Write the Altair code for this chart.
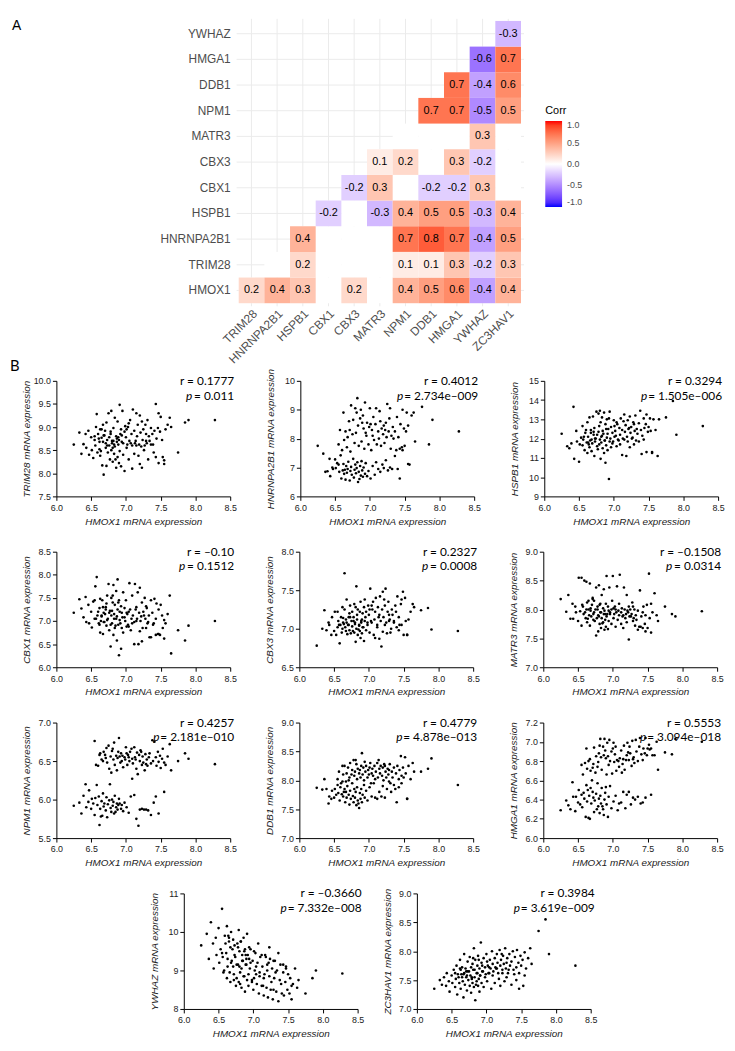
import altair as alt
import pandas as pd

# ---------------- Panel A: correlation heat map ----------------
heat_cols = ["TRIM28", "HNRNPA2B1", "HSPB1", "CBX1", "CBX3", "MATR3",
             "NPM1", "DDB1", "HMGA1", "YWHAZ", "ZC3HAV1"]
heat_rows = ["HMOX1", "TRIM28", "HNRNPA2B1", "HSPB1", "CBX1", "CBX3",
             "MATR3", "NPM1", "DDB1", "HMGA1", "YWHAZ"]          # bottom -> top

corr_row = ["HMOX1"] * 9 + ["TRIM28"] * 6 + ["HNRNPA2B1"] * 6 + ["HSPB1"] * 7 + \
           ["CBX1"] * 5 + ["CBX3"] * 4 + ["MATR3"] + ["NPM1"] * 4 + ["DDB1"] * 3 + \
           ["HMGA1"] * 2 + ["YWHAZ"]
corr_col = ["TRIM28", "HNRNPA2B1", "HSPB1", "CBX3", "NPM1", "DDB1", "HMGA1", "YWHAZ", "ZC3HAV1",
            "HSPB1", "NPM1", "DDB1", "HMGA1", "YWHAZ", "ZC3HAV1",
            "HSPB1", "NPM1", "DDB1", "HMGA1", "YWHAZ", "ZC3HAV1",
            "CBX1", "MATR3", "NPM1", "DDB1", "HMGA1", "YWHAZ", "ZC3HAV1",
            "CBX3", "MATR3", "DDB1", "HMGA1", "YWHAZ",
            "MATR3", "NPM1", "HMGA1", "YWHAZ",
            "YWHAZ",
            "DDB1", "HMGA1", "YWHAZ", "ZC3HAV1",
            "HMGA1", "YWHAZ", "ZC3HAV1",
            "YWHAZ", "ZC3HAV1",
            "ZC3HAV1"]
corr_val = [0.2, 0.4, 0.3, 0.2, 0.4, 0.5, 0.6, -0.4, 0.4,
            0.2, 0.1, 0.1, 0.3, -0.2, 0.3,
            0.4, 0.7, 0.8, 0.7, -0.4, 0.5,
            -0.2, -0.3, 0.4, 0.5, 0.5, -0.3, 0.4,
            -0.2, 0.3, -0.2, -0.2, 0.3,
            0.1, 0.2, 0.3, -0.2,
            0.3,
            0.7, 0.7, -0.5, 0.5,
            0.7, -0.4, 0.6,
            -0.6, 0.7,
            -0.3]
legend_vals = [1.0, 0.5, 0.0, -0.5, -1.0]

# ---------------- Panel B: scatter data ----------------
# HMOX1 expression of each sample (shared x of every scatter)
HMOX1_A = [6.25, 6.33, 6.36, 6.39, 6.42, 6.43, 6.46, 6.47, 6.50, 6.51,
           6.53, 6.55, 6.56, 6.58, 6.59, 6.61, 6.62, 6.63, 6.65, 6.66,
           6.67, 6.68, 6.69, 6.71, 6.72, 6.73, 6.74, 6.76, 6.77, 6.78,
           6.79, 6.80, 6.81, 6.82, 6.83, 6.84, 6.86, 6.87, 6.88, 6.89,
           6.90, 6.91, 6.93, 6.94, 6.96, 6.98, 7.01, 7.04, 7.07, 7.09,
           7.12, 7.15, 7.18, 7.20, 7.23, 7.26, 7.29, 7.32, 7.36, 7.40,
           7.43, 7.47, 7.55, 6.64, 6.85]
HMOX1_B = [6.55, 6.57, 6.60, 6.62, 6.63, 6.65, 6.67, 6.68, 6.70, 6.72,
           6.73, 6.75, 6.76, 6.78, 6.79, 6.80, 6.82, 6.83, 6.84, 6.86,
           6.87, 6.88, 6.90, 6.91, 6.92, 6.93, 6.95, 6.96, 6.98, 6.99,
           7.00, 7.02, 7.03, 7.05, 7.06, 7.08, 7.09, 7.10, 7.12, 7.13,
           7.15, 7.16, 7.17, 7.19, 7.20, 7.21, 7.23, 7.24, 7.25, 7.27,
           7.28, 7.30, 7.31, 7.33, 7.34, 7.36, 7.38, 7.39, 7.41, 7.43,
           7.44, 7.46, 7.47, 7.49, 7.50, 7.52, 7.53, 7.55, 7.57, 7.60,
           7.63, 7.65, 7.75, 7.85, 7.90, 8.28, 6.81, 6.94, 7.01, 7.14,
           7.22, 7.29, 6.71, 6.89, 7.04]
HMOX1 = HMOX1_A + HMOX1_B

TRIM28 = [8.62, 8.88, 8.42, 8.63, 8.85, 8.55, 8.92, 8.40, 8.78, 8.50,
          8.33, 8.80, 8.60, 9.28, 8.45, 8.75, 8.52, 8.38, 8.95, 8.17,
          8.68, 7.97, 8.82, 8.55, 8.16, 8.72, 8.45, 8.60, 8.30, 8.85,
          8.50, 8.65, 8.25, 8.70, 8.42, 8.58, 8.12, 8.75, 8.35, 8.62,
          8.22, 8.48, 8.15, 8.68, 8.40, 8.05, 8.55, 8.30, 8.65, 8.10,
          8.42, 8.60, 8.38, 8.20, 8.12, 8.50, 8.70, 8.30, 8.62, 8.45,
          8.35, 8.22, 8.20, 8.48, 8.30] + \
         [8.72, 9.00, 8.85, 8.68, 8.95, 8.77, 9.05, 8.82, 8.92, 9.10,
          8.60, 9.30, 8.78, 8.90, 9.35, 8.70, 8.98, 8.62, 9.20, 8.80,
          8.68, 9.12, 8.72, 9.48, 8.85, 8.95, 9.35, 8.65, 8.90, 9.02,
          8.78, 8.62, 9.00, 8.70, 9.15, 8.85, 8.60, 9.38, 8.92, 8.65,
          9.30, 8.80, 9.05, 8.62, 9.25, 8.88, 9.12, 8.72, 8.95, 8.60,
          9.05, 8.65, 9.15, 8.80, 8.70, 8.98, 8.85, 8.62, 8.92, 9.50,
          8.75, 8.98, 9.30, 8.90, 9.22, 8.72, 8.35, 8.28, 8.95, 9.05,
          9.20, 9.00, 8.45, 9.10, 9.15, 9.15, 8.55, 8.82, 8.95, 8.70,
          8.58, 8.85, 8.65, 8.78, 9.08]

HNRNPA2B1 = [7.75, 7.48, 6.85, 6.87, 7.30, 6.70, 7.00, 6.95, 7.28, 6.98,
             7.15, 7.10, 6.85, 7.42, 6.62, 6.90, 7.12, 6.78, 6.58, 7.05,
             6.82, 6.95, 7.20, 6.55, 6.88, 7.02, 6.75, 7.30, 6.65, 6.92,
             7.10, 6.80, 6.98, 7.18, 6.50, 6.85, 7.05, 6.72, 7.22, 6.90,
             6.68, 7.00, 6.78, 7.15, 6.70, 6.88, 6.62, 7.05, 6.75, 7.18,
             6.95, 6.85, 7.10, 6.98, 7.25, 6.90, 7.00, 6.95, 7.40, 6.95,
             6.62, 7.60, 7.12, 6.92, 6.60] + \
            [7.80, 8.30, 7.60, 8.90, 7.95, 8.25, 7.70, 8.05, 8.60, 7.55,
             9.15, 8.15, 8.65, 7.85, 9.05, 8.20, 9.40, 8.45, 7.75, 8.70,
             9.00, 7.90, 8.80, 8.35, 7.65, 9.25, 8.10, 8.55, 7.80, 8.40,
             9.05, 7.60, 8.30, 8.75, 7.95, 8.50, 9.05, 7.80, 8.25, 8.00,
             8.60, 7.75, 8.35, 8.15, 8.45, 7.85, 8.55, 8.05, 9.20, 8.25,
             8.70, 7.65, 8.10, 8.40, 8.00, 8.25, 7.60, 8.75, 8.05, 7.65,
             8.50, 7.70, 9.00, 8.35, 7.75, 8.25, 8.90, 8.45, 7.10, 8.80,
             8.90, 7.90, 9.10, 7.80, 8.65, 8.25, 8.90, 8.20, 8.50, 8.95,
             8.30, 9.05, 8.30, 8.55, 8.10]

HSPB1 = [12.25, 11.60, 11.50, 11.75, 13.65, 10.95, 12.40, 11.85, 10.80, 11.70,
         12.05, 11.65, 11.95, 11.40, 12.30, 11.80, 11.25, 12.10, 11.55, 11.90,
         12.45, 11.35, 11.75, 12.20, 11.10, 11.85, 12.00, 11.60, 11.45, 12.35,
         11.70, 11.95, 10.95, 11.80, 12.15, 11.50, 11.25, 11.90, 10.75, 11.65,
         12.05, 11.40, 9.90, 11.85, 11.55, 11.75, 12.10, 11.60, 11.90, 11.70,
         11.15, 11.95, 11.10, 11.85, 11.55, 12.00, 11.70, 11.90, 11.85, 11.20,
         11.95, 11.30, 11.25, 11.70, 12.25] + \
        [12.65, 12.10, 12.45, 12.85, 11.80, 13.10, 12.30, 11.95, 13.15, 12.55,
         12.00, 13.40, 12.20, 13.30, 12.65, 13.45, 12.10, 13.10, 12.40, 13.35,
         11.90, 12.75, 13.00, 12.25, 12.50, 13.05, 12.00, 12.60, 12.30, 11.85,
         12.95, 12.40, 12.15, 12.75, 11.95, 12.55, 12.20, 13.05, 12.45, 12.00,
         13.25, 12.35, 12.70, 12.10, 12.95, 12.50, 13.15, 12.30, 12.60, 12.05,
         12.85, 12.40, 13.20, 12.50, 12.25, 12.80, 13.45, 12.45, 12.15, 13.05,
         12.55, 12.75, 13.25, 12.35, 12.60, 13.05, 12.40, 11.30, 13.00, 12.45,
         11.10, 13.00, 13.10, 13.95, 12.20, 12.65, 12.85, 13.40, 12.65, 12.90,
         12.55, 12.75, 12.35, 12.50, 12.85]

CBX1 = [7.18, 7.47, 7.27, 7.08, 7.52, 6.98, 7.35, 6.95, 7.20, 6.86,
        7.42, 7.05, 7.75, 7.95, 7.12, 6.95, 7.28, 6.75, 7.10, 7.45,
        6.72, 7.18, 6.98, 7.30, 6.90, 7.55, 7.05, 6.80, 7.22, 6.45,
        7.12, 6.95, 7.40, 6.70, 7.15, 6.85, 7.05, 6.58, 7.25, 6.92,
        6.26, 7.02, 6.40, 7.18, 6.75, 7.08, 6.88, 7.20, 6.80, 6.95,
        6.50, 7.00, 6.50, 6.78, 6.56, 7.12, 6.85, 6.98, 6.65, 6.95,
        6.70, 6.72, 6.62, 7.00, 6.90] + \
       [7.45, 7.05, 7.20, 6.92, 7.48, 7.12, 7.30, 6.98, 7.15, 7.38,
        7.02, 7.80, 7.18, 6.92, 7.50, 7.22, 7.78, 7.05, 7.35, 7.65,
        7.10, 7.90, 7.45, 7.20, 6.95, 7.32, 7.08, 7.62, 7.28, 7.00,
        7.45, 7.15, 6.92, 7.82, 7.25, 7.05, 7.55, 7.12, 6.98, 7.80,
        7.30, 7.05, 7.62, 7.18, 7.72, 7.00, 7.40, 6.85, 7.20, 7.50,
        7.05, 7.28, 6.95, 7.12, 6.65, 7.45, 7.18, 6.92, 7.48, 7.05,
        7.38, 6.72, 7.25, 6.70, 7.35, 7.12, 6.85, 7.02, 6.95, 7.15,
        7.55, 6.30, 6.80, 6.58, 6.90, 7.00, 7.55, 6.85, 7.18, 7.25,
        7.10, 7.32, 7.25, 7.40, 6.88]

CBX3 = [6.78, 7.00, 7.24, 6.98, 7.08, 7.05, 6.92, 7.15, 6.97, 7.22,
        6.92, 7.02, 7.10, 6.81, 7.05, 6.95, 7.00, 7.14, 7.72, 7.02,
        6.97, 7.08, 6.93, 7.05, 6.98, 7.15, 6.94, 7.03, 6.97, 7.10,
        6.95, 7.06, 6.83, 7.00, 7.12, 6.92, 7.04, 6.97, 6.88, 7.08,
        6.94, 7.02, 6.84, 7.10, 6.98, 7.05, 6.95, 7.08, 6.92, 6.88,
        7.02, 6.87, 6.77, 6.96, 7.05, 6.94, 7.10, 7.00, 7.08, 7.02,
        6.98, 7.05, 6.92, 7.06, 6.99] + \
       [7.22, 7.05, 7.15, 7.28, 7.08, 7.25, 7.12, 7.38, 7.05, 7.20,
        7.30, 7.10, 7.22, 7.15, 7.32, 7.08, 7.55, 7.18, 7.25, 7.05,
        7.22, 7.35, 7.12, 7.20, 7.02, 7.28, 7.15, 7.22, 7.08, 7.30,
        7.18, 7.52, 7.10, 7.25, 7.35, 7.12, 7.22, 7.40, 7.05, 7.28,
        7.18, 7.42, 7.10, 7.25, 7.48, 7.15, 7.30, 7.52, 7.08, 7.22,
        7.35, 7.12, 6.95, 7.25, 7.18, 7.10, 7.30, 7.22, 7.42, 7.15,
        7.05, 7.32, 7.38, 7.48, 6.92, 7.40, 7.10, 6.92, 7.12, 7.22,
        7.32, 7.28, 7.24, 7.27, 6.99, 6.97, 7.28, 7.38, 7.25, 7.15,
        7.38, 7.18, 7.15, 7.10, 7.30]

MATR3 = [8.18, 7.96, 8.25, 7.84, 8.10, 7.84, 8.05, 7.95, 7.80, 8.55,
         7.97, 7.72, 8.08, 7.92, 8.50, 7.85, 8.00, 7.78, 8.15, 7.90,
         7.72, 8.02, 7.88, 8.18, 7.82, 7.95, 7.80, 7.55, 7.85, 8.00,
         7.62, 7.88, 7.75, 7.95, 7.68, 7.85, 7.78, 7.92, 7.65, 7.82,
         7.70, 7.88, 7.66, 7.80, 7.92, 7.75, 7.85, 7.70, 7.82, 7.90,
         7.75, 7.68, 7.85, 7.78, 7.48, 7.88, 7.80, 7.72, 7.65, 7.70,
         7.68, 7.62, 7.60, 7.84, 7.76] + \
        [8.55, 8.05, 7.95, 8.48, 8.12, 8.00, 8.45, 7.98, 8.08, 7.92,
         8.15, 8.00, 8.38, 8.05, 7.90, 8.42, 8.10, 7.95, 8.25, 8.02,
         8.35, 7.98, 8.10, 8.58, 7.92, 8.05, 8.38, 7.95, 8.00, 8.15,
         8.58, 7.92, 8.05, 7.95, 8.40, 7.98, 8.10, 8.60, 7.95, 8.02,
         7.90, 8.38, 8.00, 7.92, 8.25, 7.98, 8.05, 7.88, 8.00, 7.92,
         8.12, 7.85, 8.00, 7.90, 7.82, 7.98, 7.70, 8.33, 7.88, 7.95,
         8.05, 7.75, 7.90, 8.08, 7.68, 8.62, 7.85, 8.10, 7.95, 8.28,
         7.90, 7.80, 8.05, 7.92, 7.88, 7.97, 8.08, 7.98, 8.02, 7.88,
         7.95, 8.05, 8.20, 7.92, 8.00]

NPM1 = [5.92, 5.96, 5.82, 6.05, 6.20, 5.90, 5.97, 6.12, 5.88, 6.01,
        5.95, 5.80, 6.02, 6.19, 5.93, 6.04, 5.67, 5.88, 5.98, 5.79,
        6.08, 5.91, 5.95, 5.86, 6.03, 5.77, 5.94, 5.99, 6.20, 5.89,
        5.84, 6.00, 5.92, 5.97, 5.82, 6.05, 5.90, 5.95, 5.87, 5.93,
        6.01, 5.95, 5.88, 5.93, 5.85, 5.96, 5.90, 5.83, 6.04, 6.27,
        6.06, 5.75, 5.66, 5.87, 5.88, 5.87, 5.87, 5.86, 5.80, 5.96,
        6.04, 5.82, 6.10, 5.78, 5.84] + \
       [6.76, 6.45, 6.44, 6.58, 6.60, 6.52, 6.50, 6.62, 6.58, 6.67,
        6.48, 6.70, 6.40, 6.56, 6.35, 6.63, 6.52, 6.74, 6.45, 6.57,
        6.38, 6.54, 6.80, 6.56, 6.48, 6.60, 6.57, 6.42, 6.55, 6.52,
        6.68, 6.45, 6.58, 6.50, 6.62, 6.66, 6.53, 6.47, 6.68, 6.55,
        6.40, 6.61, 6.33, 6.58, 6.50, 6.64, 6.45, 6.56, 6.48, 6.38,
        6.59, 6.52, 6.44, 6.55, 6.60, 6.47, 6.77, 6.50, 6.75, 6.55,
        6.44, 6.62, 6.49, 6.57, 6.41, 6.53, 6.66, 6.48, 6.45, 6.56,
        6.72, 6.38, 6.50, 6.60, 6.53, 6.46, 6.66, 6.50, 6.60, 6.52,
        6.62, 6.46, 6.54, 6.62, 6.55]

DDB1 = [7.87, 7.84, 8.02, 7.85, 7.60, 7.72, 7.68, 7.82, 7.70, 7.85,
        7.75, 7.92, 7.78, 7.65, 7.88, 7.76, 7.98, 7.72, 7.85, 7.62,
        7.80, 7.70, 7.90, 7.75, 7.58, 7.82, 7.68, 7.95, 7.73, 7.62,
        7.85, 7.70, 7.80, 7.57, 7.88, 7.65, 7.52, 7.78, 7.68, 7.85,
        7.62, 7.75, 7.92, 7.70, 7.82, 7.65, 7.88, 7.72, 7.95, 7.70,
        7.68, 7.80, 7.72, 7.90, 7.70, 7.85, 7.98, 7.80, 7.92, 7.62,
        7.88, 7.95, 7.68, 7.80, 7.60] + \
       [8.02, 8.15, 7.95, 8.25, 8.10, 8.25, 7.98, 8.12, 8.22, 8.05,
        8.30, 8.10, 8.18, 8.35, 8.08, 8.15, 8.28, 8.02, 8.20, 8.12,
        8.18, 8.05, 8.47, 8.10, 8.22, 8.00, 8.15, 8.25, 8.05, 8.18,
        8.10, 8.30, 7.95, 8.20, 8.08, 8.25, 8.02, 8.15, 8.30, 8.05,
        8.20, 8.12, 8.25, 8.08, 8.22, 8.00, 8.25, 8.15, 8.05, 8.20,
        8.10, 8.28, 7.95, 8.15, 8.05, 8.22, 7.85, 8.12, 8.25, 8.02,
        8.18, 8.42, 8.08, 8.22, 8.05, 8.40, 8.12, 7.68, 8.25, 8.02,
        8.30, 8.15, 8.15, 8.20, 8.38, 7.92, 8.35, 8.32, 8.22, 8.35,
        8.28, 8.18, 8.00, 8.25, 8.12]

HMGA1 = [6.29, 6.39, 6.34, 6.30, 6.58, 6.43, 6.28, 6.43, 6.37, 6.50,
         6.35, 6.45, 6.32, 6.47, 6.41, 6.22, 6.55, 6.38, 6.21, 6.44,
         6.20, 6.52, 6.36, 6.48, 6.42, 6.27, 6.39, 6.46, 6.30, 6.57,
         6.33, 6.41, 6.26, 6.44, 6.36, 6.52, 6.30, 6.24, 6.40, 6.47,
         6.53, 6.35, 6.22, 6.43, 6.54, 6.31, 6.38, 6.44, 6.29, 6.36,
         6.37, 6.48, 6.31, 6.45, 6.48, 6.35, 6.42, 6.40, 6.43, 6.36,
         6.37, 6.42, 6.45, 6.50, 6.33] + \
        [6.76, 6.66, 6.78, 6.93, 6.72, 6.80, 6.82, 6.70, 6.60, 6.77,
         6.94, 6.68, 6.85, 6.74, 6.79, 6.88, 7.03, 6.84, 6.71, 6.95,
         6.86, 7.03, 6.83, 6.66, 6.99, 6.85, 7.02, 6.80, 6.90, 6.67,
         6.93, 6.79, 6.87, 6.70, 6.81, 6.80, 6.74, 6.83, 6.91, 6.68,
         6.82, 6.96, 6.71, 6.81, 6.86, 6.99, 6.81, 6.95, 6.88, 6.75,
         7.01, 6.84, 6.78, 7.02, 6.90, 6.80, 6.95, 7.04, 6.87, 6.81,
         6.93, 6.88, 7.04, 6.86, 6.93, 6.97, 6.92, 6.93, 6.86, 6.86,
         7.00, 6.71, 6.89, 6.87, 7.03, 7.00, 6.96, 6.76, 6.99, 6.77,
         6.89, 6.82, 6.73, 6.91, 6.95]

YWHAZ = [9.65, 9.95, 9.30, 10.25, 9.70, 9.05, 9.85, 9.40, 10.10, 9.20,
         9.55, 10.60, 9.35, 9.00, 9.90, 9.45, 10.15, 9.10, 9.75, 8.95,
         9.60, 10.00, 9.25, 9.80, 8.90, 9.65, 9.35, 8.80, 9.70, 9.15,
         10.05, 9.50, 8.95, 9.75, 9.05, 9.40, 9.85, 8.85, 9.55, 9.15,
         9.30, 9.95, 8.90, 9.60, 9.20, 8.75, 9.50, 9.10, 9.70, 8.85,
         9.40, 8.80, 9.35, 9.00, 9.60, 8.70, 9.25, 8.95, 9.45, 8.65,
         9.15, 9.05, 8.60, 9.90, 9.25] + \
        [9.45, 8.95, 9.70, 8.80, 9.30, 9.85, 8.70, 9.20, 9.55, 8.75,
         9.40, 8.60, 9.15, 9.60, 8.70, 9.10, 9.75, 8.55, 9.25, 8.85,
         9.50, 8.45, 9.15, 8.75, 9.40, 8.60, 9.05, 9.55, 8.70, 9.25,
         8.50, 9.00, 9.45, 8.65, 9.20, 8.40, 8.95, 9.35, 8.60, 9.10,
         8.35, 8.90, 9.40, 8.55, 9.15, 8.30, 8.85, 9.30, 8.50, 9.05,
         8.25, 8.80, 9.25, 8.45, 9.00, 8.20, 8.75, 9.15, 8.40, 8.95,
         8.35, 8.70, 9.10, 8.50, 8.90, 8.40, 8.80, 8.25, 8.65, 9.05,
         8.55, 8.75, 8.40, 8.80, 9.00, 8.92, 8.65, 9.30, 8.80, 8.60,
         9.20, 8.50, 9.10, 9.40, 8.90]

ZC3HAV1 = [7.35, 7.50, 7.42, 7.55, 7.40, 7.62, 7.48, 7.30, 7.58, 7.45,
           7.68, 7.38, 7.52, 7.25, 7.60, 7.45, 7.70, 7.35, 7.55, 7.48,
           7.20, 7.62, 7.42, 7.55, 7.32, 7.65, 7.50, 7.40, 7.58, 7.28,
           7.52, 7.45, 7.68, 7.38, 7.55, 7.15, 7.48, 7.62, 7.40, 7.52,
           7.30, 7.58, 7.45, 7.65, 7.38, 7.55, 7.48, 7.62, 7.35, 7.58,
           7.45, 7.70, 7.52, 7.40, 7.62, 7.48, 7.55, 7.68, 7.42, 7.60,
           7.50, 7.35, 7.58, 7.60, 7.42] + \
          [7.62, 7.75, 7.55, 7.85, 7.68, 7.72, 7.60, 7.95, 7.70, 7.58,
           7.82, 7.65, 7.90, 7.72, 7.55, 7.78, 8.05, 7.68, 7.85, 7.62,
           7.75, 7.92, 7.70, 7.58, 8.15, 7.80, 7.65, 7.88, 7.72, 7.60,
           7.95, 7.75, 7.62, 7.85, 7.70, 8.00, 7.78, 7.65, 7.88, 7.72,
           7.95, 7.80, 7.62, 8.02, 7.75, 7.85, 7.68, 7.92, 7.78, 8.05,
           7.70, 7.88, 7.62, 7.95, 7.75, 7.82, 8.00, 7.68, 7.90, 7.72,
           8.02, 7.80, 7.62, 7.92, 7.75, 7.85, 7.40, 7.98, 7.70, 7.88,
           8.05, 7.78, 8.35, 8.55, 7.95, 7.75, 7.88, 7.75, 7.82, 7.70,
           7.95, 7.80, 7.65, 7.85, 7.72]

x_ticks = [6.0, 6.5, 7.0, 7.5, 8.0, 8.5]

# gene, y-domain, y ticks, tick format, r text, p value text
panels = [
    ("TRIM28", [7.5, 10.0], [7.5, 8.0, 8.5, 9.0, 9.5, 10.0], ".1f", "r = 0.1777", "= 0.011", TRIM28),
    ("HNRNPA2B1", [6, 10], [6, 7, 8, 9, 10], "d", "r = 0.4012", "= 2.734e\u2013009", HNRNPA2B1),
    ("HSPB1", [9, 15], [9, 10, 11, 12, 13, 14, 15], "d", "r = 0.3294", "= 1.505e\u2013006", HSPB1),
    ("CBX1", [6.0, 8.5], [6.0, 6.5, 7.0, 7.5, 8.0, 8.5], ".1f", "r = \u20130.10", "= 0.1512", CBX1),
    ("CBX3", [6.5, 8.0], [6.5, 7.0, 7.5, 8.0], ".1f", "r = 0.2327", "= 0.0008", CBX3),
    ("MATR3", [7.0, 9.0], [7.0, 7.5, 8.0, 8.5, 9.0], ".1f", "r = \u20130.1508", "= 0.0314", MATR3),
    ("NPM1", [5.5, 7.0], [5.5, 6.0, 6.5, 7.0], ".1f", "r = 0.4257", "= 2.181e\u2013010", NPM1),
    ("DDB1", [7.0, 9.0], [7.0, 7.5, 8.0, 8.5, 9.0], ".1f", "r = 0.4779", "= 4.878e\u2013013", DDB1),
    ("HMGA1", [6.0, 7.2], [6.0, 6.2, 6.4, 6.6, 6.8, 7.0, 7.2], ".1f", "r = 0.5553", "= 3.094e\u2013018", HMGA1),
    ("YWHAZ", [8, 11], [8, 9, 10, 11], "d", "r = \u20130.3660", "= 7.332e\u2013008", YWHAZ),
    ("ZC3HAV1", [7.0, 9.0], [7.0, 7.5, 8.0, 8.5, 9.0], ".1f", "r = 0.3984", "= 3.619e\u2013009", ZC3HAV1),
]

# ---------------- styling ----------------
SANS = "Liberation Sans"
ANNO = "Lato"
ANNO_SIZE = 12
PW, PH = 176, 117
LATO_W = {"0": .58, "1": .58, "2": .58, "3": .58, "4": .58, "5": .58, "6": .58,
          "7": .58, "8": .58, "9": .58, ".": .25, " ": .193, "=": .58, "e": .53,
          "\u2013": .5, "p": .57, "r": .36}


def text_w(s):
    return sum(LATO_W.get(ch, .55) for ch in s) * ANNO_SIZE


one = pd.DataFrame({"k": [0]})

# ---------------- Panel A chart ----------------
tri = [(r, c) for i, r in enumerate(heat_rows) for j, c in enumerate(heat_cols) if j >= i]
tri_df = pd.DataFrame({"row": [t[0] for t in tri], "col": [t[1] for t in tri]})
sig_df = pd.DataFrame({"row": corr_row, "col": corr_col, "val": corr_val,
                       "lab": [f"{v:.1f}" for v in corr_val]})

hx = alt.X("col:N", sort=heat_cols,
           scale=alt.Scale(paddingInner=0, paddingOuter=0.1),
           axis=alt.Axis(title=None, labelAngle=315, labelAlign="right", labelBaseline="top",
                         labelPadding=2, ticks=False, domain=False, grid=True, zindex=0,
                         gridColor="#EBEBEB", gridWidth=1, bandPosition=0.5,
                         labelFont=SANS, labelFontSize=12, labelColor="#4D4D4D"))
hy = alt.Y("row:N", sort=heat_rows[::-1],
           scale=alt.Scale(paddingInner=0, paddingOuter=0.1),
           axis=alt.Axis(title=None, labelPadding=6, ticks=False, domain=False, grid=True, zindex=0,
                         gridColor="#EBEBEB", gridWidth=1, bandPosition=0.5,
                         labelFont=SANS, labelFontSize=12, labelColor="#4D4D4D"))

white_tiles = alt.Chart(tri_df).mark_rect(fill="white").encode(x=hx, y=hy)
color_tiles = alt.Chart(sig_df).mark_rect().encode(
    x=hx, y=hy,
    color=alt.Color("val:Q",
                    scale=alt.Scale(domain=[-1, 0, 1], range=["#0000FF", "#FFFFFF", "#FF0000"],
                                    interpolate="lab"),
                    legend=alt.Legend(title="Corr", orient="none", legendX=495, legendY=88,
                                      direction="vertical", gradientLength=87,
                                      gradientThickness=17, values=legend_vals,
                                      labelExpr="replace(format(datum.value, '.1f'), '\u2212', '-')",
                                      titleFont=SANS, titleFontSize=11, titleColor="black",
                                      titleFontWeight="normal", titlePadding=5,
                                      labelFont=SANS, labelFontSize=9, labelColor="#4D4D4D",
                                      labelOffset=5, gradientStrokeWidth=0, padding=0)))
cell_text = alt.Chart(sig_df).mark_text(font=SANS, fontSize=11, color="black").encode(
    x=hx, y=hy, text="lab:N")

heat = alt.layer(white_tiles, color_tiles, cell_text).properties(width=291, height=291)

# blank cell to the left of the heat map, carrying the panel letter "A"
spacer_a = alt.Chart(one).mark_text(text="A", font=SANS, fontSize=14, color="black",
                                    align="left", baseline="middle").encode(
    x=alt.value(-45), y=alt.value(8)).properties(width=100, height=291)


def letter_mark(color, x):
    # panel letter "B" (black) or a white stand-in that gives every row the same top edge
    return alt.Chart(one).mark_text(text="B", font=ANNO, fontSize=15, color=color,
                                    align="left", baseline="middle").encode(
        x=alt.value(x), y=alt.value(-15))


# ---------------- Panel B charts ----------------
def scatter(gene, ydom, yticks, yfmt, rtxt, ptxt, yvals, letter=None):
    df = pd.DataFrame({"x": HMOX1, "y": yvals})
    xe = alt.X("x:Q", scale=alt.Scale(domain=[6.0, 8.5], nice=False, zero=False),
               axis=alt.Axis(values=x_ticks, format=".1f", title="HMOX1 mRNA expression",
                             grid=False, domainColor="black", domainWidth=1,
                             tickColor="black", tickWidth=1, tickSize=4, labelPadding=3,
                             labelFlush=False, labelOverlap=False, labelSeparation=0,
                             labelFont=SANS, labelFontSize=9, labelColor="#222",
                             titleFont=SANS, titleFontSize=10, titleFontStyle="italic",
                             titleFontWeight="normal", titleColor="#222", titlePadding=4))
    ye = alt.Y("y:Q", scale=alt.Scale(domain=ydom, nice=False, zero=False),
               axis=alt.Axis(values=yticks, format=yfmt, title=f"{gene} mRNA expression",
                             grid=False, domainColor="black", domainWidth=1,
                             tickColor="black", tickWidth=1, tickSize=4, labelPadding=2,
                             labelFlush=False, labelOverlap=False, labelSeparation=0,
                             labelFont=SANS, labelFontSize=9, labelColor="#222",
                             titleFont=SANS, titleFontSize=10, titleFontStyle="italic",
                             titleFontWeight="normal", titleColor="#222", titlePadding=4,
                             minExtent=21, maxExtent=21))
    pts = alt.Chart(df).mark_circle(size=7, color="black", opacity=1).encode(x=xe, y=ye)
    tdf = pd.DataFrame({"r": [rtxt], "p": [ptxt]})
    # annotation texts sit at the top-right corner of the plot area
    r_t = alt.Chart(tdf).mark_text(font=ANNO, fontSize=ANNO_SIZE, color="black",
                                   align="right", baseline="middle", dx=4).encode(
        x=alt.value(PW), y=alt.value(0), text="r:N")
    p_v = alt.Chart(tdf).mark_text(font=ANNO, fontSize=ANNO_SIZE, color="black",
                                   align="right", baseline="middle", dx=4, dy=15).encode(
        x=alt.value(PW), y=alt.value(0), text="p:N")
    p_i = alt.Chart(tdf).mark_text(text="p", font=ANNO, fontSize=ANNO_SIZE, fontStyle="italic",
                                   color="black", align="right", baseline="middle",
                                   dx=4 - text_w(ptxt) - text_w(" "), dy=15).encode(
        x=alt.value(PW), y=alt.value(0))
    layers = [pts, r_t, p_v, p_i]
    if letter:
        layers.append(letter_mark(letter, -47))
    return alt.layer(*layers).properties(width=PW, height=PH)


letters = {0: "black", 3: "white", 6: "white"}
charts = [scatter(g, d, t, f, r, p, yv, letter=letters.get(i))
          for i, (g, d, t, f, r, p, yv) in enumerate(panels)]

spacer_4 = letter_mark("white", 0).properties(width=76, height=PH)

row0 = alt.hconcat(spacer_a, heat, spacing=4)
row1 = alt.hconcat(charts[0], charts[1], charts[2], spacing=28)
row2 = alt.hconcat(charts[3], charts[4], charts[5], spacing=28)
row3 = alt.hconcat(charts[6], charts[7], charts[8], spacing=28)
row4 = alt.hconcat(spacer_4, charts[9], charts[10], spacing=17)

panel_b = alt.vconcat(row1, row2, row3, row4, spacing=4)

chart = alt.vconcat(row0, panel_b, spacing=-7).properties(
    padding={"left": 2, "top": 4, "right": 2, "bottom": 2}
).configure_view(strokeWidth=0).configure_axis(labelOverlap=False)

chart.save("out.html", embed_options={"renderer": "svg", "actions": False})
